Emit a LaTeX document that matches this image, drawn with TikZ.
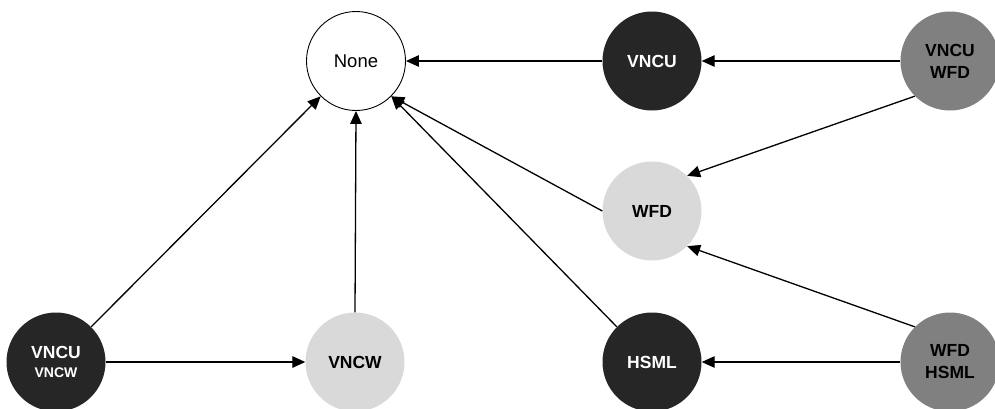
\documentclass[tikz,border=0pt]{standalone}
\usepackage{fontspec}
\setmainfont{Liberation Sans}
\usetikzlibrary{arrows.meta}
\definecolor{darkfill}{HTML}{262626}
\definecolor{midfill}{HTML}{808080}
\definecolor{lightfill}{HTML}{D9D9D9}
\tikzset{
  state/.style={circle, minimum size=99pt, inner sep=0pt, align=center,
    font=\fontsize{17.5}{22}\selectfont\bfseries},
  darkstate/.style={state, fill=darkfill, text=white},
  midstate/.style={state, fill=midfill, text=black},
  lightstate/.style={state, fill=lightfill, text=black},
  openstate/.style={state, draw=black, line width=0.9pt, fill=white,
    font=\fontsize{18.5}{22}\selectfont},
  link/.style={draw=black, line width=1.3pt,
    -{Triangle[length=13pt,width=11.5pt]}}
}
\begin{document}
\begin{tikzpicture}[x=1pt, y=-1pt]
  \useasboundingbox (0,0) rectangle (995,408);
  % states
  \node[openstate]  (none)  at (356,61)  {None};
  \node[darkstate]  (vncu)  at (652,61)  {VNCU};
  \node[midstate]   (vncuwfd) at (950,61) {VNCU\\WFD};
  \node[lightstate] (wfd)   at (652,211) {WFD};
  \node[darkstate]  (vncuvncw) at (56,362) {VNCU\\[-3pt]{\fontsize{14}{16}\selectfont VNCW}};
  \node[lightstate] (vncw)  at (355,362) {VNCW};
  \node[darkstate]  (hsml)  at (652,362) {HSML};
  \node[midstate]   (wfdhsml) at (950,362) {WFD\\HSML};
  % transitions
  \draw[link] (vncu.west) -- (none.east);
  \draw[link] (vncuwfd.west) -- (vncu.east);
  \draw[link] (vncuwfd.south west) -- (wfd.north east);
  \draw[link] (wfdhsml.north west) -- (wfd.south east);
  \draw[link] (wfdhsml.west) -- (hsml.east);
  \draw[link] (wfd.west) -- (none.south east);
  \draw[link] (hsml.north west) -- (none.south east);
  \draw[link] (vncw.north) -- (none.south);
  \draw[link] (vncuvncw.north east) -- (none.south west);
  \draw[link] (vncuvncw.east) -- (vncw.west);
\end{tikzpicture}
\end{document}
